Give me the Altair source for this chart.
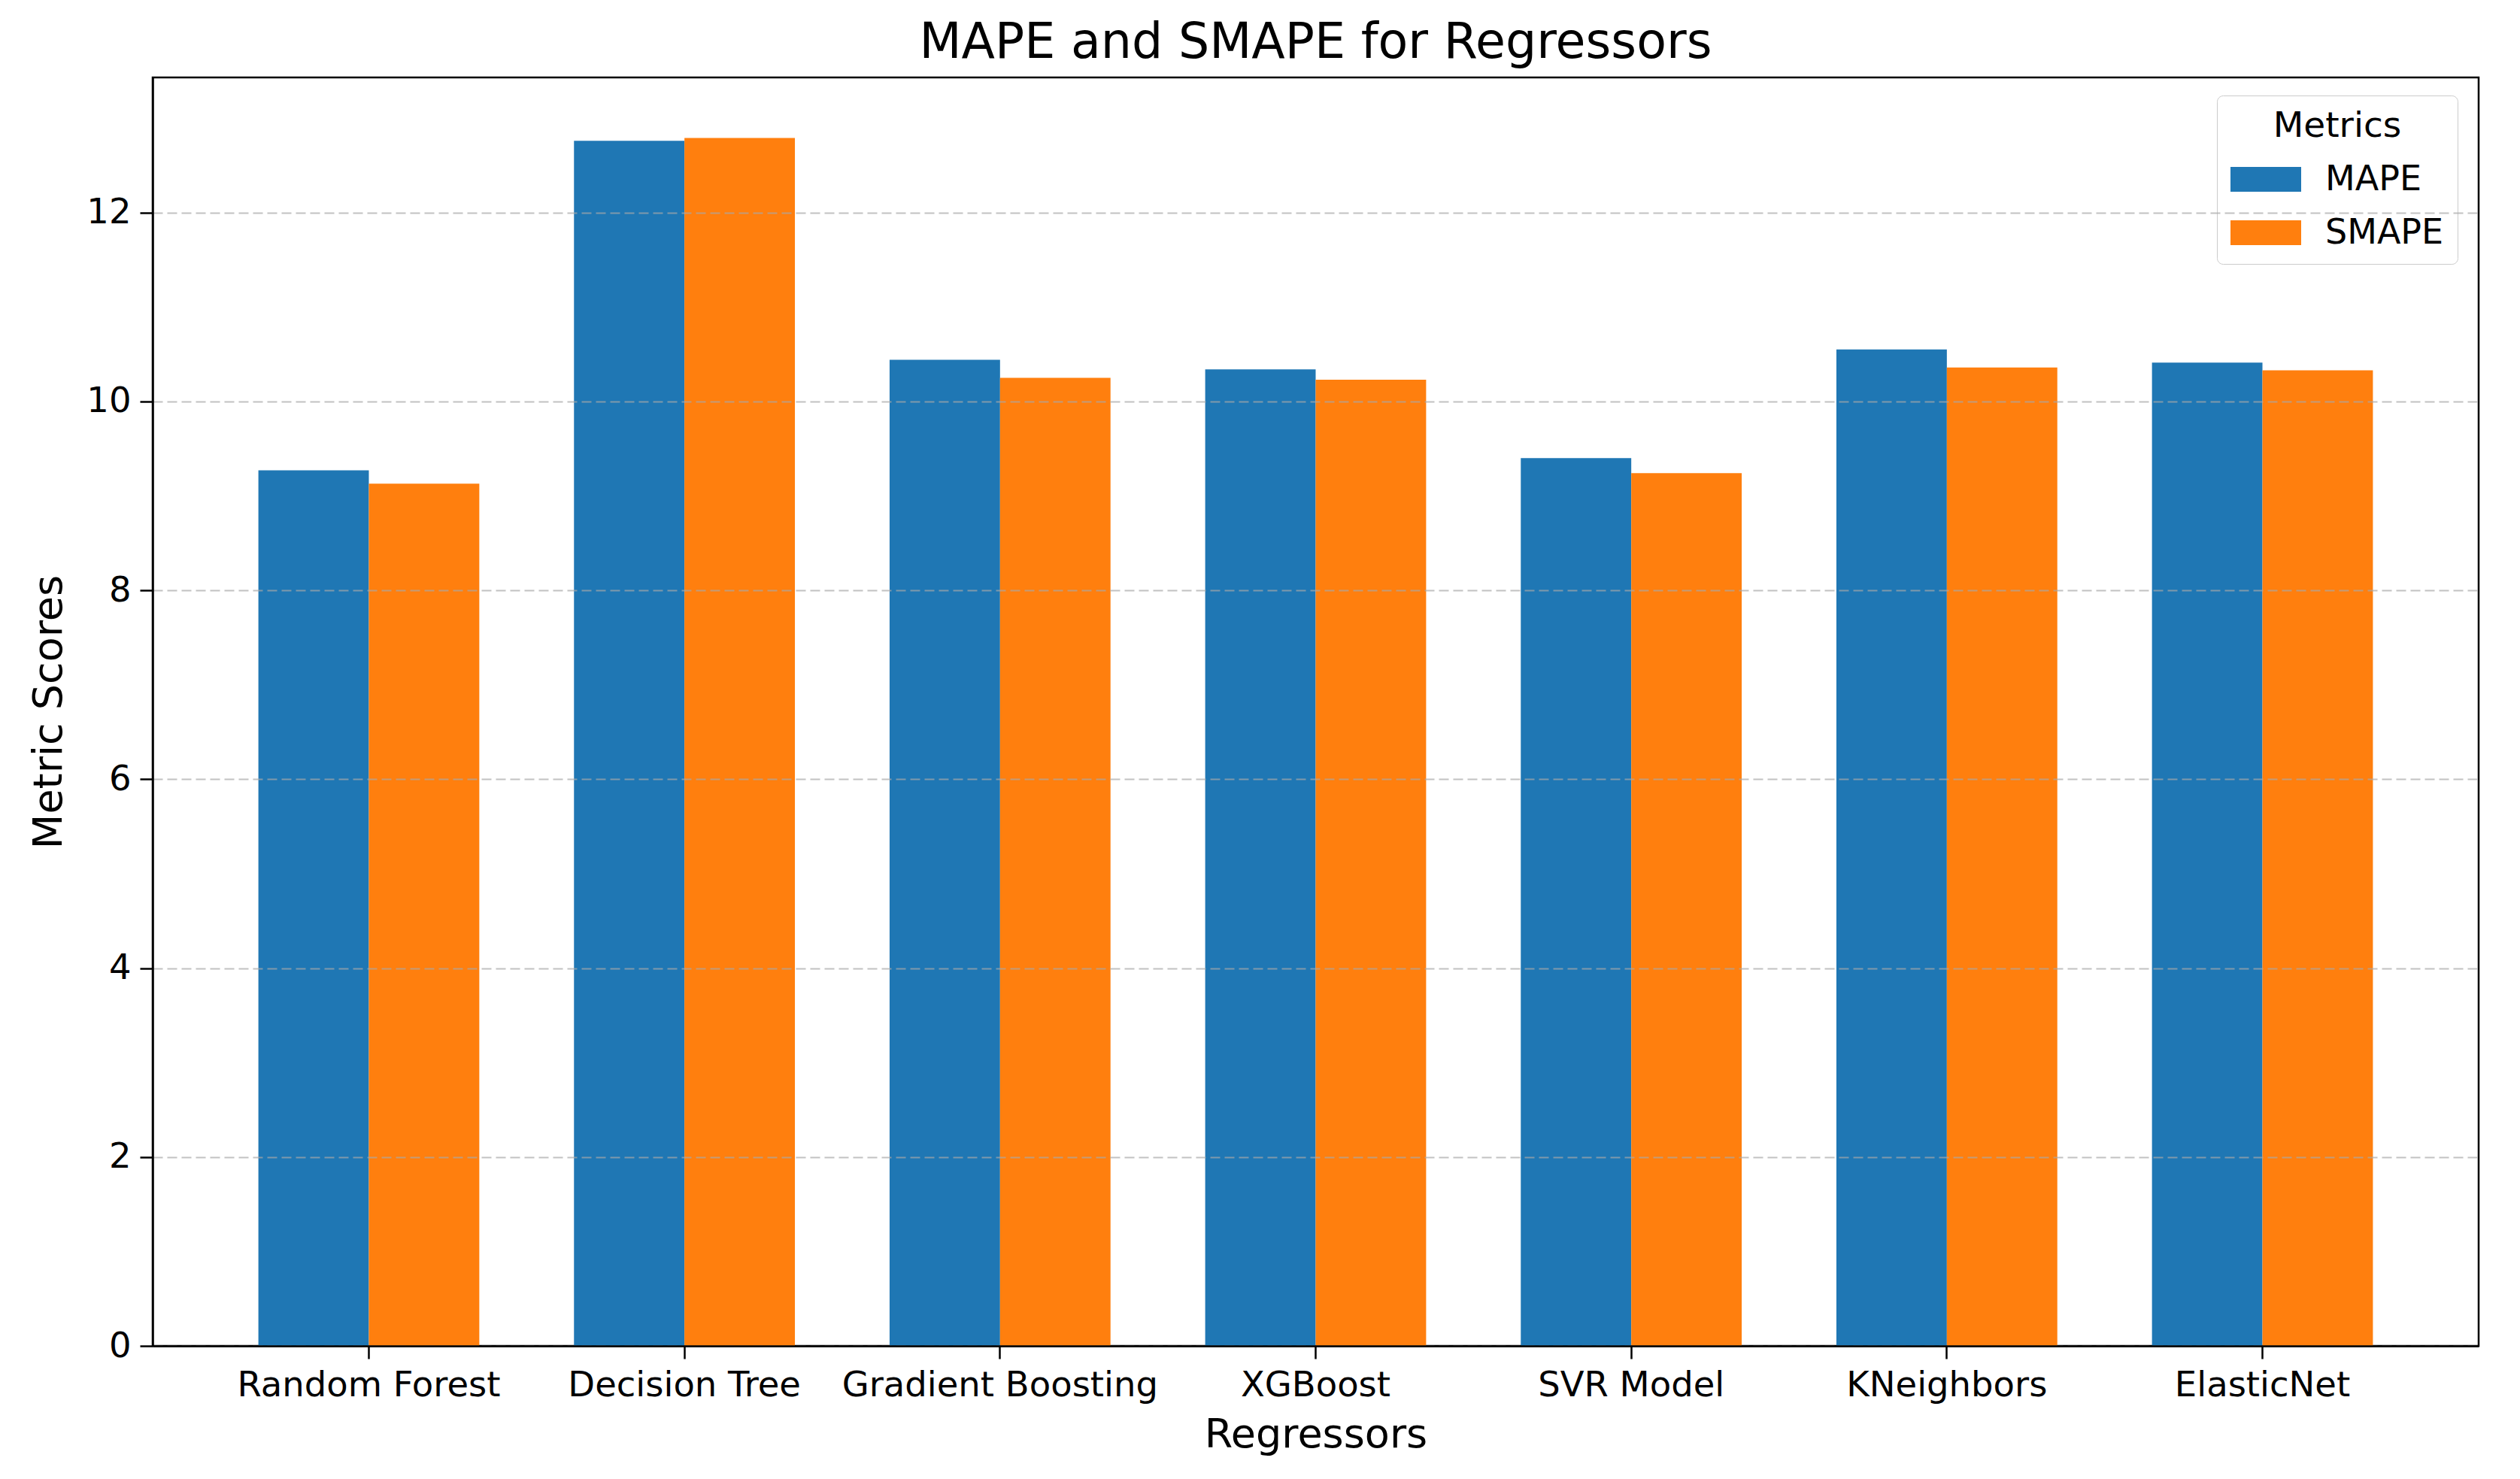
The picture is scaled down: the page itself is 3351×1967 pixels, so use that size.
import altair as alt
import pandas as pd

regressors = ["Random Forest", "Decision Tree", "Gradient Boosting", "XGBoost",
              "SVR Model", "KNeighbors", "ElasticNet"]
metrics = ["MAPE", "SMAPE"]
mape = [9.27, 12.76, 10.44, 10.34, 9.40, 10.55, 10.41]
smape = [9.13, 12.79, 10.25, 10.23, 9.24, 10.36, 10.33]
colors = ["#1f77b4", "#ff7f0e"]
y_ticks = [0, 2, 4, 6, 8, 10, 12]

rows = []
for r, a, b in zip(regressors, mape, smape):
    rows.append({"regressor": r, "metric": "MAPE", "value": a})
    rows.append({"regressor": r, "metric": "SMAPE", "value": b})
df = pd.DataFrame(rows)

FONT = "DejaVu Sans"

chart = alt.Chart(df).mark_bar().encode(
    x=alt.X("regressor:N", sort=regressors,
            scale=alt.Scale(paddingInner=0.3, paddingOuter=0.335),
            axis=alt.Axis(title="Regressors", labelAngle=0, grid=False,
                          labelLimit=2000, labelPadding=12, titlePadding=16, zindex=2)),
    xOffset=alt.XOffset("metric:N", sort=metrics,
                        scale=alt.Scale(paddingInner=0, paddingOuter=0)),
    y=alt.Y("value:Q",
            scale=alt.Scale(domain=[0, 13.43], nice=False, zero=True),
            axis=alt.Axis(title="Metric Scores", values=y_ticks, grid=True,
                          gridDash=[13, 6], gridColor="#a8a8a8", gridOpacity=0.7,
                          gridWidth=2, labelPadding=12, titlePadding=22, zindex=1)),
    color=alt.Color("metric:N",
                    scale=alt.Scale(domain=metrics, range=colors),
                    legend=alt.Legend(
                        title="Metrics", orient="none", legendX=2745, legendY=24,
                        titleFontSize=47, titleFont=FONT, titleFontWeight="normal",
                        titleColor="black", titleAnchor="middle", titleAlign="center",
                        titlePadding=23,
                        labelFontSize=46, labelFont=FONT, labelColor="black",
                        labelLimit=400, labelOffset=79,
                        symbolType="M-1,-0.702L3,-0.702L3,0.702L-1,0.702Z",
                        symbolSize=2209, symbolStrokeWidth=0, symbolOpacity=1,
                        rowPadding=24, padding=18, strokeColor="#cccccc",
                        cornerRadius=8, fillColor="white")),
).properties(
    width=3093,
    height=1687,
    title=alt.Title("MAPE and SMAPE for Regressors", fontSize=65, font=FONT,
                    fontWeight="normal", color="black", anchor="middle", offset=12),
    autosize=alt.AutoSizeParams(type="none"),
    padding={"left": 195, "top": 95, "right": 40, "bottom": 160},
).configure_view(
    stroke="black", strokeWidth=2.5
).configure_axis(
    domainColor="black", domainWidth=2.5, tickColor="black", tickWidth=2.5,
    tickSize=17, labelFont=FONT, labelFontSize=46.5, labelColor="black",
    titleFont=FONT, titleFontSize=54, titleFontWeight="normal", titleColor="black"
)

chart.save("out.html", embed_options={"renderer": "svg", "actions": False})
